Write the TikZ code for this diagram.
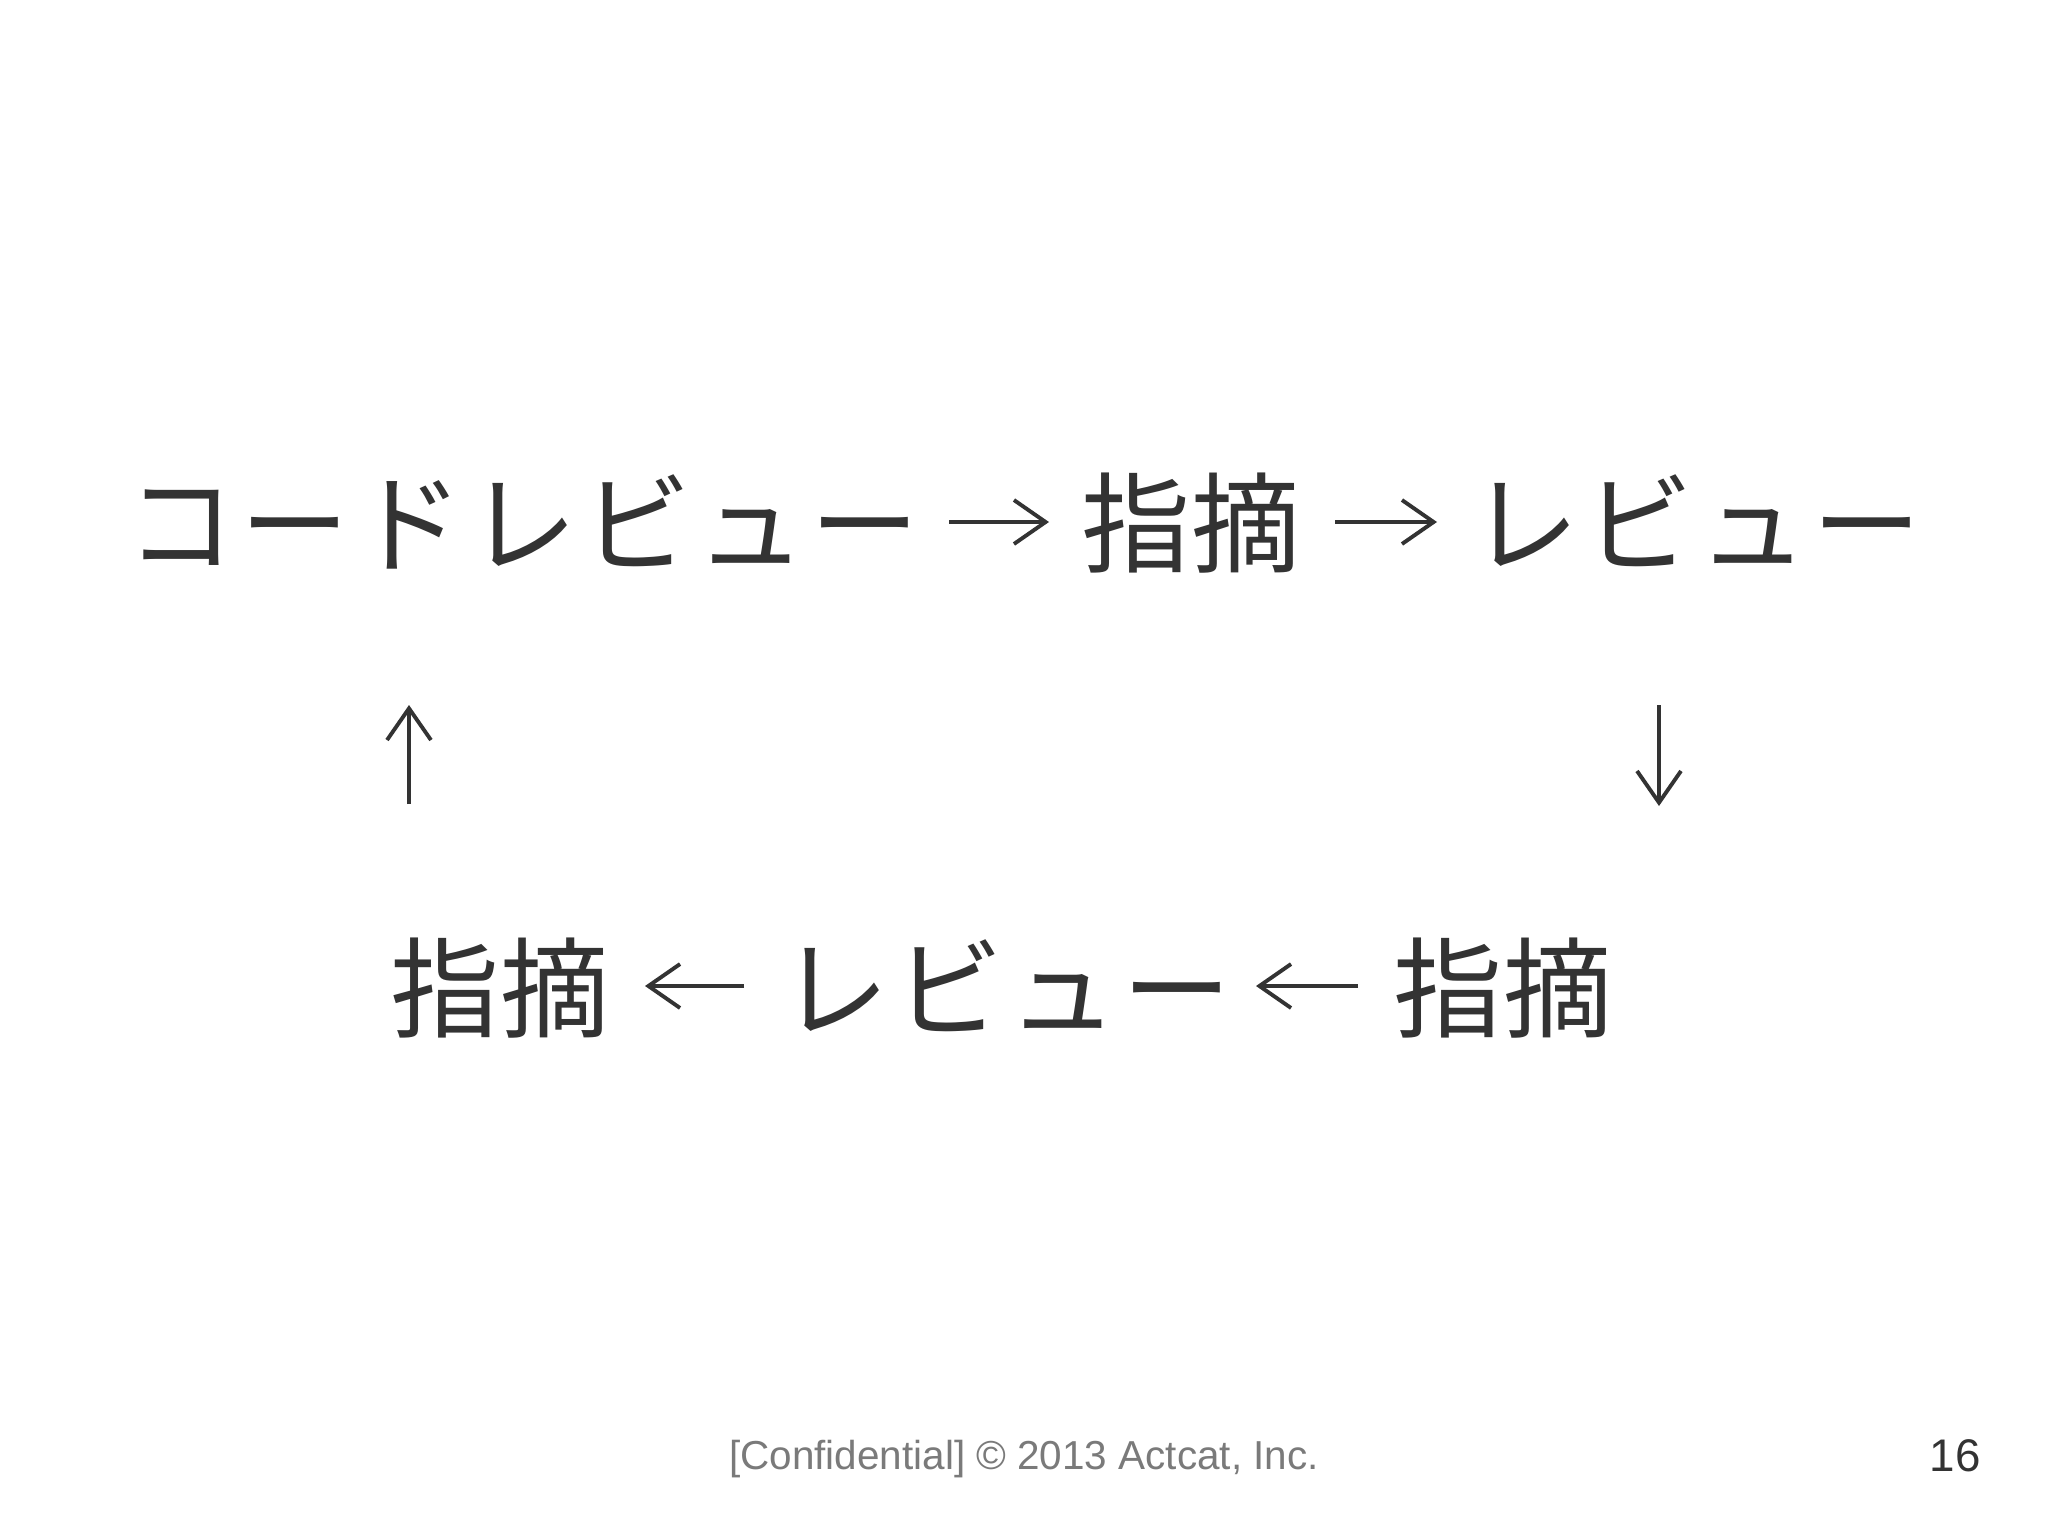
\documentclass[tikz,border=0pt]{standalone}
\usepackage{fontspec}
\usetikzlibrary{arrows.meta}
\newfontfamily\jpfont{Noto Sans CJK JP}
\newfontfamily\jpkana[LetterSpace=4.5]{Noto Sans CJK JP}
\setmainfont{Liberation Sans}
\definecolor{ink}{HTML}{333333}
\definecolor{footgray}{HTML}{7A7A7A}
\begin{document}
\begin{tikzpicture}[x=0.01cm,y=-0.01cm,
  word/.style={inner sep=0pt, anchor=base, text=ink, font=\jpfont\fontsize{31pt}{31pt}\selectfont},
  kana/.style={word, font=\jpkana\fontsize{31pt}{31pt}\selectfont},
  arr/.style={draw=ink, line width=1.1pt, -{Straight Barb[length=9pt,width=12.5pt,line width=1.1pt]}},
  foot/.style={inner sep=0pt, anchor=base, font=\fontsize{11.5pt}{11.5pt}\selectfont}]
\useasboundingbox[fill=white] (0,0) rectangle (2048,1536);
% row 1
\node[kana] (n1) at (523,564) {コードレビュー};
\node[word] (n2) at (1191,564) {指摘};
\node[kana] (n3) at (1696,564) {レビュー};
% row 2
\node[word] (m1) at (500,1029) {指摘};
\node[kana] (m2) at (1006,1029) {レビュー};
\node[word] (m3) at (1503,1029) {指摘};
% arrow end points
\coordinate (a1s) at (949,522);  \coordinate (a1e) at (1049,522);
\coordinate (a2s) at (1335,522); \coordinate (a2e) at (1437,522);
\coordinate (d1s) at (1659,705); \coordinate (d1e) at (1659,806);
\coordinate (b1s) at (1358,986); \coordinate (b1e) at (1256,986);
\coordinate (b2s) at (744,986);  \coordinate (b2e) at (645,986);
\coordinate (u1s) at (409,804);  \coordinate (u1e) at (409,705);
\draw[arr] (a1s) -- (a1e);
\draw[arr] (a2s) -- (a2e);
\draw[arr] (d1s) -- (d1e);
\draw[arr] (b1s) -- (b1e);
\draw[arr] (b2s) -- (b2e);
\draw[arr] (u1s) -- (u1e);
% footer
\node[foot, text=footgray] (conf) at (1024,1469) {[Confidential] © 2013 Actcat, Inc.};
\node[foot, text=ink, font=\fontsize{13pt}{13pt}\selectfont] (page) at (1955,1471) {16};
\end{tikzpicture}
\end{document}
